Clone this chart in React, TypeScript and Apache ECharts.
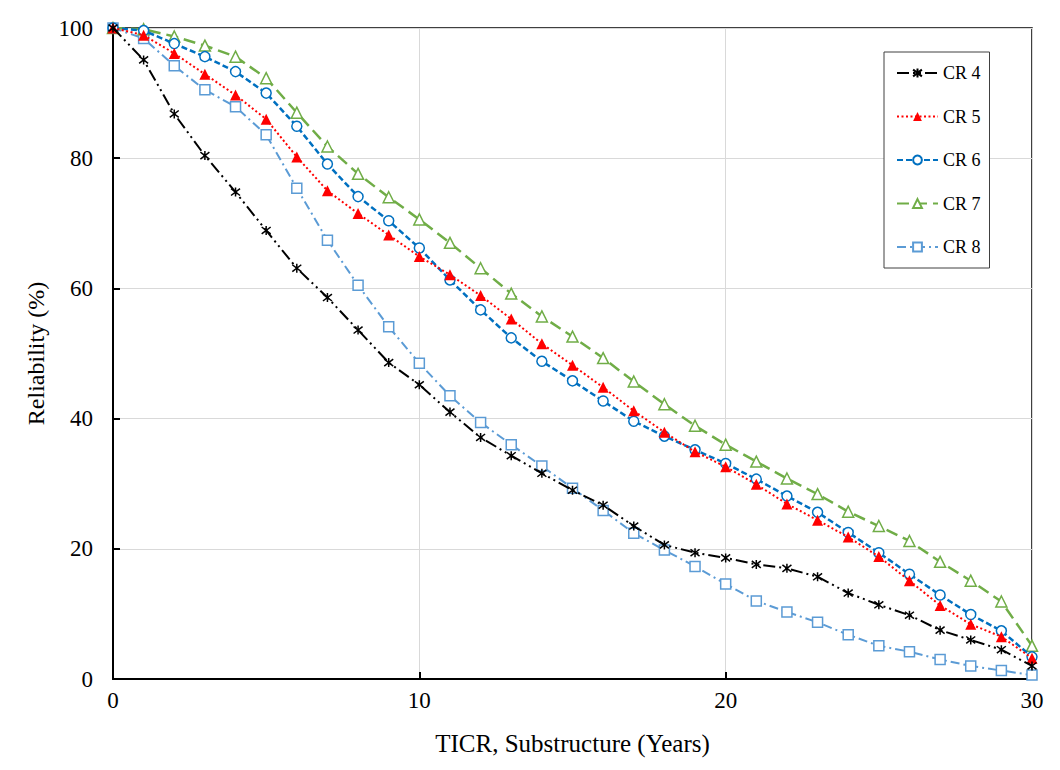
import React, { useEffect, useRef } from "react";
import * as echarts from "echarts";

const years = [0, 1, 2, 3, 4, 5, 6, 7, 8, 9, 10, 11, 12, 13, 14, 15, 16, 17, 18, 19, 20, 21, 22, 23, 24, 25, 26, 27, 28, 29, 30];

const cr4 = [100, 95.1, 86.8, 80.4, 74.8, 68.9, 63.1, 58.6, 53.6, 48.6, 45.2, 41.0, 37.1, 34.3, 31.6, 29.0, 26.7, 23.5, 20.6, 19.4, 18.6, 17.6, 17.0, 15.7, 13.2, 11.4, 9.8, 7.5, 6.0, 4.5, 2.0];
const cr5 = [100, 98.9, 96.1, 92.9, 89.7, 86.0, 80.2, 75.0, 71.5, 68.2, 64.9, 62.1, 58.9, 55.3, 51.5, 48.2, 44.8, 41.2, 37.9, 34.9, 32.6, 29.9, 26.9, 24.4, 21.8, 18.8, 15.1, 11.3, 8.4, 6.5, 3.2];
const cr6 = [100, 99.6, 97.6, 95.6, 93.3, 90.0, 84.9, 79.1, 74.1, 70.4, 66.2, 61.3, 56.7, 52.4, 48.8, 45.8, 42.7, 39.6, 37.3, 35.2, 33.1, 30.7, 28.1, 25.6, 22.5, 19.4, 16.1, 12.9, 9.9, 7.4, 3.4];
const cr7 = [100, 99.8, 98.7, 97.3, 95.6, 92.3, 87.0, 81.8, 77.6, 74.0, 70.6, 67.0, 63.1, 59.2, 55.7, 52.6, 49.3, 45.7, 42.2, 38.9, 36.0, 33.4, 30.8, 28.4, 25.7, 23.5, 21.2, 18.0, 15.1, 11.9, 5.1];
const cr8 = [100, 98.4, 94.2, 90.5, 87.9, 83.6, 75.4, 67.4, 60.5, 54.1, 48.5, 43.5, 39.4, 36.0, 32.7, 29.3, 25.9, 22.4, 19.8, 17.3, 14.6, 12.0, 10.3, 8.7, 6.8, 5.1, 4.2, 3.0, 2.0, 1.3, 0.6];

const seriesNames = ["CR 4", "CR 5", "CR 6", "CR 7", "CR 8"];
const xTicks = [0, 10, 20, 30];
const yTicks = [0, 20, 40, 60, 80, 100];

const FONT = "Liberation Serif";
const ASTERISK = "path://M-1,-1L1,1M-1,1L1,-1M0,-1.3L0,1.3";

export default function App() {
  const ref = useRef<HTMLDivElement>(null);
  useEffect(() => {
    if (!ref.current) return;
    const chart = echarts.init(ref.current, undefined, { renderer: "svg" });
    const pairs = (arr: number[]) => years.map((x, i) => [x, arr[i]]);
    const styles = [
      { data: cr4, color: "#000000", dash: [12, 4, 2, 4, 2, 4], width: 2, symbol: ASTERISK, size: 9, fill: "#000000", border: 1.5 },
      { data: cr5, color: "#FF0000", dash: [2, 2.5], width: 2, symbol: "triangle", size: 11, fill: "#FF0000", border: 0 },
      { data: cr6, color: "#0070C0", dash: [6, 3], width: 2.5, symbol: "circle", size: 10, fill: "#ffffff", border: 1.5 },
      { data: cr7, color: "#70AD47", dash: [12, 6], width: 2.5, symbol: "triangle", size: 11, fill: "#ffffff", border: 1.5 },
      { data: cr8, color: "#5B9BD5", dash: [9, 4, 2, 4], width: 2, symbol: "rect", size: 10, fill: "#ffffff", border: 1.5 },
    ];
    chart.setOption({
      animation: false,
      backgroundColor: "#ffffff",
      textStyle: { fontFamily: FONT },
      graphic: [
        { type: "line", shape: { x1: 4, y1: 6, x2: 1060, y2: 6 }, style: { stroke: "#d9d9d9", lineWidth: 1 } },
        { type: "line", shape: { x1: 4, y1: 6, x2: 4, y2: 770 }, style: { stroke: "#d9d9d9", lineWidth: 1 } },
      ],
      grid: {
        left: 113,
        right: 28,
        top: 28,
        bottom: 91,
        show: true,
        borderColor: "#000000",
        borderWidth: 1.5,
        backgroundColor: "transparent",
      },
      legend: {
        show: true,
        orient: "vertical",
        left: 884,
        top: 52,
        padding: [12, 9, 12, 12],
        itemGap: 25.5,
        itemWidth: 41,
        itemHeight: 11,
        backgroundColor: "#ffffff",
        borderColor: "#404040",
        borderWidth: 1,
        textStyle: { fontFamily: FONT, fontSize: 18, color: "#000000" },
        data: seriesNames,
      },
      xAxis: {
        type: "value",
        min: 0,
        max: 30,
        interval: 10,
        name: "TICR, Substructure (Years)",
        nameLocation: "middle",
        nameGap: 52,
        nameTextStyle: { fontFamily: FONT, fontSize: 25, color: "#000000" },
        axisLine: { show: true, onZero: false, lineStyle: { color: "#000000", width: 2 } },
        axisTick: { show: true, inside: true, length: 7, lineStyle: { color: "#000000", width: 2 } },
        axisLabel: {
          fontFamily: FONT,
          fontSize: 23,
          color: "#000000",
          margin: 10,
          formatter: (v: number) => (xTicks.includes(v) ? String(v) : ""),
        },
        splitLine: { show: true, lineStyle: { color: "#d9d9d9", width: 1 } },
      },
      yAxis: {
        type: "value",
        min: 0,
        max: 100,
        interval: 20,
        name: "Reliability (%)",
        nameLocation: "middle",
        nameGap: 61,
        nameTextStyle: { fontFamily: FONT, fontSize: 24, color: "#000000" },
        axisLine: { show: true, lineStyle: { color: "#000000", width: 2 } },
        axisTick: { show: true, inside: true, length: 7, lineStyle: { color: "#000000", width: 2 } },
        axisLabel: {
          fontFamily: FONT,
          fontSize: 23,
          color: "#000000",
          margin: 20,
          formatter: (v: number) => (yTicks.includes(v) ? String(v) : ""),
        },
        splitLine: { show: true, lineStyle: { color: "#d9d9d9", width: 1 } },
      },
      series: styles.map((s, i) => ({
        name: seriesNames[i],
        type: "line",
        data: pairs(s.data),
        symbol: s.symbol,
        symbolSize: s.size,
        showAllSymbol: true,
        clip: false,
        lineStyle: { color: s.color, width: s.width, type: s.dash },
        itemStyle: { color: s.fill, borderColor: s.color, borderWidth: s.border },
        emphasis: { disabled: true },
        z: 10 - i,
      })),
    });
    return () => chart.dispose();
  }, []);
  return <div ref={ref} style={{ width: 1060, height: 770, margin: -8 }} />;
}
